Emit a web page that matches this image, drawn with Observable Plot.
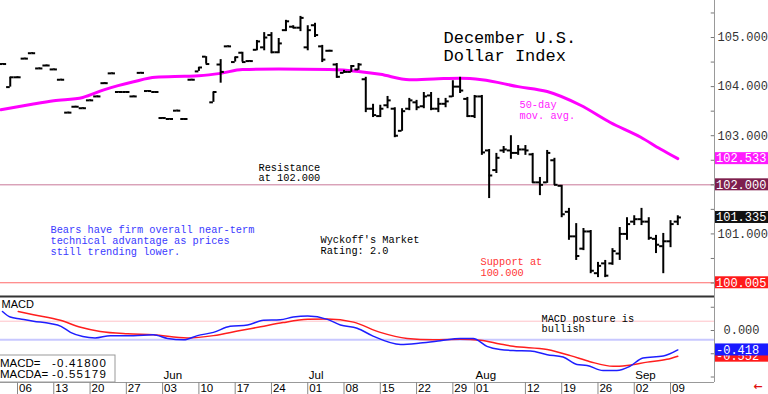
<!DOCTYPE html>
<html>
<head>
<meta charset="utf-8">
<script src="https://cdn.jsdelivr.net/npm/d3@7"></script>
<script src="https://cdn.jsdelivr.net/npm/@observablehq/plot@0.6"></script>
<style>
  html,body{margin:0;padding:0;background:#fff;}
  #chart{width:768px;height:394px;overflow:hidden;background:#fff;}
  #chart svg{display:block;}
</style>
</head>
<body>
<div id="chart"></div>
<script>
const MONO = "Liberation Mono, DejaVu Sans Mono, monospace";
const SANS = "Liberation Sans, Arial, sans-serif";

// ---- Price bars (trading-day index, 0 = Mon 06 May 2024) ----
const firstBarIdx = -2;
const opens  = [104.46,103.99,104.19,104.57,104.68,104.37,104.43,104.35,104.14,103.47,103.59,103.56,103.72,103.80,104.07,104.27,103.89,103.89,103.80,104.28,103.91,103.89,103.36,103.34,103.51,103.34,104.14,104.31,104.61,103.68,104.45,104.82,104.50,104.69,104.52,104.75,104.80,105.05,104.70,105.15,105.22,105.20,104.80,105.25,104.82,104.73,104.45,104.28,104.30,104.35,104.15,103.55,103.40,103.62,103.55,103.10,103.55,103.68,103.60,103.82,103.55,103.65,103.80,104.00,103.75,103.40,103.80,102.70,102.30,102.70,102.70,102.65,102.72,102.62,102.05,102.05,102.50,101.98,101.45,100.95,100.70,101.05,100.20,100.40,100.40,100.60,101.00,101.25,101.30,101.25,100.90,100.75,100.85,101.25];
const highs  = [104.47,104.19,104.20,104.58,104.69,104.38,104.44,104.36,104.15,103.48,103.60,103.57,103.73,103.81,104.08,104.28,103.90,103.90,103.81,104.29,103.92,103.90,103.37,103.35,103.52,103.35,104.15,104.39,104.61,103.89,104.55,104.83,104.60,104.70,104.53,104.94,105.10,105.10,104.98,105.35,105.24,105.43,105.24,105.29,104.84,104.74,104.47,104.33,104.43,104.47,104.19,103.64,103.62,103.80,103.57,103.55,103.76,103.72,103.88,103.88,103.76,103.76,104.12,104.19,103.78,103.82,103.82,102.72,102.64,102.78,103.00,102.80,102.80,102.64,102.15,102.70,102.54,101.99,101.52,101.21,101.11,101.07,100.42,100.46,100.70,101.13,101.33,101.37,101.52,101.33,100.97,101.01,101.27,101.37];
const lows   = [104.45,103.99,104.18,104.56,104.67,104.36,104.42,104.34,104.13,103.46,103.58,103.55,103.71,103.79,104.06,104.26,103.88,103.88,103.79,104.27,103.90,103.88,103.35,103.33,103.50,103.33,104.13,104.31,104.46,103.68,104.07,104.81,104.50,104.50,104.51,104.73,104.73,104.67,104.67,105.12,105.18,105.12,104.73,105.00,104.49,104.72,104.17,104.27,104.29,104.33,103.47,103.37,103.37,103.55,102.96,103.09,103.51,103.51,103.55,103.51,103.47,103.57,103.78,103.86,103.37,103.35,102.60,101.72,102.23,102.64,102.52,102.60,102.60,102.03,101.78,102.03,101.99,101.33,100.87,100.46,100.66,100.19,100.11,100.11,100.36,100.46,100.87,101.17,101.17,100.87,100.60,100.19,100.72,101.17];
const closes = [104.46,104.19,104.19,104.57,104.68,104.37,104.43,104.35,104.14,103.47,103.59,103.56,103.72,103.80,104.07,104.27,103.89,103.89,103.80,104.28,103.91,103.89,103.36,103.34,103.51,103.34,104.14,104.39,104.46,103.89,104.30,104.82,104.60,104.50,104.52,104.92,105.00,104.70,104.88,105.33,105.20,105.40,105.15,105.05,104.55,104.73,104.20,104.30,104.42,104.45,103.55,103.42,103.55,103.72,103.00,103.50,103.72,103.58,103.80,103.55,103.65,103.70,104.00,103.92,103.40,103.80,102.66,102.19,102.55,102.72,102.65,102.72,102.70,102.05,102.00,102.65,102.00,101.40,100.95,100.55,101.05,100.25,100.35,100.15,100.65,101.00,101.20,101.30,101.25,100.92,100.78,100.85,101.20,101.335];

// ---- 50-day moving average ----
const maIdx = [-2.3,2,5,9,12,16,19,23,25,28,31,36,43,47,50,54,58,61,64,69,73,77.6,81.7,85.9,88.6,91];
const maVal = [103.53,103.64,103.71,103.78,103.94,104.10,104.19,104.21,104.22,104.27,104.35,104.36,104.35,104.31,104.25,104.14,104.16,104.17,104.14,104.00,103.90,103.62,103.27,102.97,102.73,102.533];

// ---- MACD (blue) and MACD average (red) ----
const macdIdx = [-2.07,-1,0.4,2.2,4.5,6,7.3,9,10.7,12.8,16,18.7,20.7,22.9,24.8,27,29.3,31.7,33.9,36.2,38,40,42.7,44.5,46.8,49,52.8,55.5,58.3,61,62.8,64.7,66.5,68.3,70.7,73,75.2,77.1,78.5,80.7,82.6,84.4,86.2,89,91];
const macdVal = [0.41,0.29,0.25,0.20,0.15,0.09,-0.04,-0.13,-0.16,-0.11,-0.11,-0.09,-0.17,-0.20,-0.11,-0.04,0.09,0.12,0.22,0.23,0.29,0.31,0.24,0.12,0.05,-0.12,-0.30,-0.27,-0.22,-0.17,-0.17,-0.34,-0.41,-0.43,-0.44,-0.52,-0.57,-0.73,-0.75,-0.86,-0.86,-0.77,-0.59,-0.55,-0.418];
const sigIdx = [0.1,2.2,5.9,8.7,11.4,15.2,18.7,23.4,27,30.7,33.5,36.6,40,42.7,46.3,50,53.7,57.3,61,63.8,66.5,68.3,73,76.2,78.9,82.1,84,86.8,89.5,91];
const sigVal = [0.41,0.34,0.22,0.07,-0.02,-0.07,-0.09,-0.16,-0.11,0.0,0.08,0.17,0.24,0.25,0.18,-0.04,-0.17,-0.20,-0.19,-0.21,-0.29,-0.34,-0.41,-0.54,-0.67,-0.77,-0.75,-0.68,-0.62,-0.552];

// ---- Axis labels ----
const weekIdx    = [0,5,10,15,20,25,30,35,40,45,50,55,60,63,70,75,80,85,90];
const weekLabels = ["06","13","20","27","03","10","17","24","01","08","15","22","29","01","12","19","26","02","09"];
const monthIdx    = [20,40,63,85];
const monthLabels = ["Jun","Jul","Aug","Sep"];
const priceTicks = [101,103,104,105];
const priceMinor = [100,100.5,101,101.5,102,102.5,103,103.5,104,104.5,105,105.5];
const macdMinor  = [-1,-0.5,0,0.5];

// ---- Levels / last values ----
const resistance = 102.000, support = 100.005, lastClose = 101.335, lastMA = 102.533;
const macdLast = -0.418, macdaLast = -0.552;
const macdBandHi = 0.2, macdBandLo = -0.2;
const macdText = "-0.41800", macdaText = "-0.55179";

// ---------------------------------------------------------------
const X0 = -2.343, X1 = 96.06;
const bars = opens.map((o, k) => ({i: firstBarIdx + k, o, h: highs[k], l: lows[k], c: closes[k]}));
const ma = maIdx.map((i, k) => ({i, v: maVal[k]}));
const macd = macdIdx.map((i, k) => ({i, v: macdVal[k]}));
const sig = sigIdx.map((i, k) => ({i, v: sigVal[k]}));
const weeks = weekIdx.map((i, k) => ({i, t: weekLabels[k]}));
const months = monthIdx.map((i, k) => ({i, t: monthLabels[k]}));

const note = (txt, x, y, fill, size = 10.3, lh = 1.04, family = MONO) =>
  Plot.text([txt], {text: d => d, frameAnchor: "top-left", dx: x, dy: y, textAnchor: "start",
    lineAnchor: "top", fill, fontSize: size, lineHeight: lh, fontFamily: family});

const valueBoxes = (items) => (index, scales, values, dims) => {
  const g = d3.create("svg:g");
  const x0 = dims.width - dims.marginRight;
  for (const b of items) {
    const y = scales.y(b.v);
    g.append("rect").attr("x", x0 + 1).attr("y", y - 6).attr("width", dims.marginRight - 1)
      .attr("height", 12).attr("fill", b.bg);
    g.append("text").attr("x", x0 + 2).attr("y", y).attr("dy", "0.36em").attr("fill", "#fff")
      .attr("text-anchor", "start")
      .attr("font-family", MONO).attr("font-size", 12).text(b.label);
  }
  return g.node();
};

const mainPlot = Plot.plot({
  width: 768, height: 297, marginLeft: 0, marginRight: 54, marginTop: 0, marginBottom: 0,
  style: {background: "#fff", fontFamily: MONO, fontSize: "12px", overflow: "visible"},
  x: {domain: [X0, X1], axis: null},
  y: {domain: [99.705, 105.754]},
  marks: [
    Plot.ruleY([resistance], {stroke: "#c87898", strokeWidth: 1}),
    Plot.ruleY([support], {stroke: "#ff6a6a", strokeWidth: 1.2}),
    Plot.ruleX([X1], {stroke: "#999"}),
    Plot.ruleY(priceMinor, {x1: X1 - 0.45, x2: X1, stroke: "#777"}),
    Plot.axisY({anchor: "right", ticks: priceTicks, tickFormat: d3.format(".3f"), tickSize: 0,
      tickPadding: 3, fontSize: 12, fontFamily: MONO, color: "#333", label: null}),
    Plot.line(ma, {x: "i", y: "v", stroke: "#ff00ff", strokeWidth: 3, curve: "monotone-x"}),
    Plot.ruleX(bars, {x: "i", y1: "l", y2: "h", stroke: "#000", strokeWidth: 2}),
    Plot.ruleY(bars, {y: "o", x1: d => d.i - 0.5, x2: "i", stroke: "#000", strokeWidth: 2}),
    Plot.ruleY(bars, {y: "c", x1: "i", x2: d => d.i + 0.5, stroke: "#000", strokeWidth: 2}),
    Plot.ruleY([99.705], {stroke: "#333", strokeWidth: 2, dy: -1}),
    note("December U.S.\nDollar Index", 443, 30, "#000", 17, 1.05),
    note("Resistance\nat 102.000", 258, 162.5, "#000"),
    note("Bears have firm overall near-term\ntechnical advantage as prices\nstill trending lower.", 50, 225, "#3a3aff"),
    note("Wyckoff's Market\nRating: 2.0", 320, 235, "#000"),
    note("Support at\n100.000", 480, 257, "#ff3535"),
    note("50-day\nmov. avg.", 519, 100, "#ff22ff"),
    valueBoxes([
      {v: lastMA, bg: "#ff1aff", label: lastMA.toFixed(3)},
      {v: resistance, bg: "#7e1f4e", label: resistance.toFixed(3)},
      {v: lastClose, bg: "#111", label: lastClose.toFixed(3)},
      {v: support, bg: "#ff1a1a", label: support.toFixed(3)}
    ])
  ]
});

const macdBox = (index, scales, values, dims) => {
  const g = d3.create("svg:g");
  const top = dims.height - dims.marginBottom - 27;
  g.append("rect").attr("x", -1).attr("y", top).attr("width", 116).attr("height", 27)
    .attr("fill", "#fff").attr("stroke", "#999");
  const rows = [["MACD=", macdText], ["MACDA=", macdaText]];
  rows.forEach(([a, b], k) => {
    const y = top + 8 + k * 10.5;
    g.append("text").attr("x", 0).attr("y", y).attr("dy", "0.35em").attr("font-family", SANS)
      .attr("text-anchor", "start")
      .attr("font-size", 11.5).attr("fill", "#000").text(a);
    g.append("text").attr("x", 52).attr("y", y).attr("dy", "0.35em").attr("font-family", SANS)
      .attr("text-anchor", "start")
      .attr("font-size", 11.5).attr("letter-spacing", "1.2px").attr("fill", "#000").text(b);
  });
  return g.node();
};

const macdPlot = Plot.plot({
  width: 768, height: 97, marginLeft: 0, marginRight: 54, marginTop: 0, marginBottom: 12,
  style: {background: "#fff", fontFamily: MONO, fontSize: "12px", overflow: "visible"},
  x: {domain: [X0, X1], axis: null},
  y: {domain: [-1.118, 0.71], axis: null},
  marks: [
    Plot.ruleY([macdBandHi], {stroke: "#ffc2c8", strokeWidth: 1}),
    Plot.ruleY([macdBandLo], {stroke: "#c8c8ff", strokeWidth: 2}),
    Plot.ruleX([X1], {stroke: "#999"}),
    Plot.ruleY(macdMinor, {x1: X1 - 0.45, x2: X1, stroke: "#777"}),
    Plot.axisY({anchor: "right", ticks: [0], tickFormat: d3.format(".3f"), tickSize: 0,
      tickPadding: 9, fontSize: 12, fontFamily: MONO, color: "#333", label: null}),
    Plot.line(sig, {x: "i", y: "v", stroke: "#ff1e1e", strokeWidth: 1.5, curve: "monotone-x"}),
    Plot.line(macd, {x: "i", y: "v", stroke: "#1e1eff", strokeWidth: 1.5, curve: "monotone-x"}),
    Plot.ruleY([-1.118], {stroke: "#999"}),
    Plot.axisX({ticks: weekIdx, tickSize: 12, tickFormat: () => "", color: "#888", label: null}),
    Plot.text(weeks, {x: "i", text: "t", frameAnchor: "bottom", dy: 5.5, dx: 1.5, textAnchor: "start",
      lineAnchor: "middle", fontFamily: SANS, fontSize: 11.5, fill: "#000"}),
    Plot.text(months, {x: "i", text: "t", frameAnchor: "bottom", dy: -4, dx: 1, textAnchor: "start",
      lineAnchor: "bottom", fontFamily: SANS, fontSize: 11.5, fill: "#000"}),
    Plot.text(["MACD"], {text: d => d, frameAnchor: "top-left", dx: 1, dy: 3, textAnchor: "start",
      lineAnchor: "top", fontFamily: SANS, fontSize: 11, fill: "#000"}),
    note("MACD posture is\nbullish", 541, 16.5, "#000"),
    macdBox,
    valueBoxes([
      {v: macdaLast, bg: "#ff1a1a", label: macdaLast.toFixed(3)},
      {v: macdLast, bg: "#1a1aff", label: macdLast.toFixed(3)}
    ]),
    Plot.text(["\u2190"], {text: d => d, frameAnchor: "bottom-right", dx: 48, dy: 4, fill: "#e01010",
      fontSize: 11, fontWeight: "bold", fontFamily: "DejaVu Sans", lineAnchor: "middle"})
  ]
});

const chart = document.getElementById("chart");
chart.append(mainPlot, macdPlot);
</script>
</body>
</html>
